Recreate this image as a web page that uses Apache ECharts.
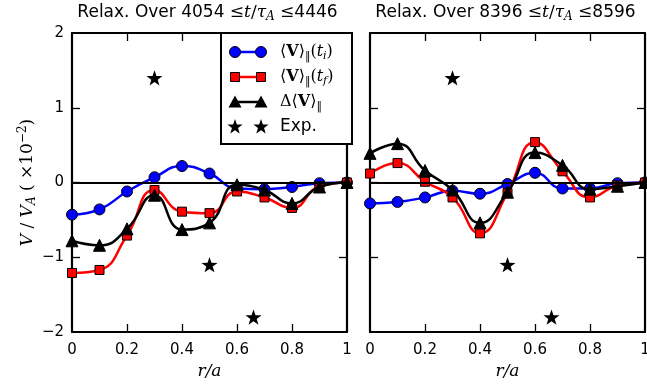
<!DOCTYPE html>
<html>
<head>
<meta charset="utf-8">
<script src="https://cdn.jsdelivr.net/npm/echarts@6/dist/echarts.min.js"></script>
<style>
html, body { margin: 0; padding: 0; background: #fff; }
#chart { width: 647px; height: 385px; }
</style>
</head>
<body>
<div id="chart"></div>
<script>
// Radial positions r/a of the profile samples
const radius = [0, 0.1, 0.2, 0.3, 0.4, 0.5, 0.6, 0.7, 0.8, 0.9, 1.0];

// Relaxation window 4054 <= t/tau_A <= 4446 (units of 1e-2 V_A)
const early_Vi = [-0.43, -0.36, -0.12, 0.07, 0.22, 0.12, -0.08, -0.09, -0.06, -0.01, 0];
const early_Vf = [-1.21, -1.17, -0.71, -0.10, -0.39, -0.41, -0.12, -0.20, -0.34, -0.05, 0];
const early_dV = [-0.78, -0.84, -0.62, -0.17, -0.63, -0.54, -0.03, -0.10, -0.28, -0.06, 0];

// Relaxation window 8396 <= t/tau_A <= 8596
const late_Vi = [-0.28, -0.26, -0.20, -0.11, -0.15, -0.02, 0.13, -0.08, -0.08, -0.01, 0];
const late_Vf = [0.12, 0.26, 0.01, -0.20, -0.68, -0.14, 0.54, 0.15, -0.20, -0.04, 0];
const late_dV = [0.39, 0.52, 0.16, -0.10, -0.54, -0.13, 0.40, 0.23, -0.09, -0.05, 0];

// Experimental points
const expRadius = [0.3, 0.5, 0.66];
const expValue = [1.4, -1.1, -1.8];

// Tick values and labels
const xTickValues = [0, 0.2, 0.4, 0.6, 0.8, 1];
const xTickLabels = ['0', '0.2', '0.4', '0.6', '0.8', '1'];
const yTickValues = [-2, -1, 0, 1, 2];
const yTickLabels = ['\u22122', '\u22121', '0', '1', '2'];

const panelTitles = [['4054', '4446'], ['8396', '8596']];

function pairs(xs, ys) { return xs.map((x, i) => [x, ys[i]]); }

function starPoints(cx, cy, R) {
  const pts = [];
  for (let k = 0; k < 10; k++) {
    const a = -Math.PI / 2 + k * Math.PI / 5;
    const rr = (k % 2 === 0) ? R : R * 0.4;
    pts.push([cx + rr * Math.cos(a), cy + rr * Math.sin(a)]);
  }
  return pts;
}
const starSymbol = 'path://' + starPoints(50, 52, 50).map((p, i) => (i ? 'L' : 'M') + p[0].toFixed(2) + ' ' + p[1].toFixed(2)).join(' ') + ' Z';

const serif = 'DejaVu Serif';
const sans = 'DejaVu Sans';

const xMin = 0, xMax = 1, yMin = -2, yMax = 2;
const gridBoxes = [
  { left: 72, top: 33, width: 275, height: 299 },
  { left: 370, top: 33, width: 275, height: 299 }
];

function frameLine() { return { show: true, onZero: false, lineStyle: { color: '#000', width: 2.2 } }; }

const xAxes = [], yAxes = [], series = [];
gridBoxes.forEach((g, gi) => {
  xAxes.push({
    gridIndex: gi, type: 'value', min: xMin, max: xMax, interval: 0.2, position: 'bottom',
    axisLine: frameLine(), axisTick: { show: false }, splitLine: { show: false },
    axisLabel: {
      color: '#000', fontFamily: sans, fontSize: 15, margin: 11,
      formatter: v => xTickLabels[xTickValues.findIndex(t => Math.abs(t - v) < 1e-9)]
    },
    name: 'r/a', nameLocation: 'middle', nameGap: 30,
    nameTextStyle: { color: '#000', fontFamily: serif, fontStyle: 'italic', fontSize: 17 }
  });
  xAxes.push({
    gridIndex: gi, type: 'value', min: xMin, max: xMax, interval: 0.2, position: 'top',
    axisLine: frameLine(), axisTick: { show: false }, splitLine: { show: false },
    axisLabel: { show: false }
  });
  yAxes.push({
    gridIndex: gi, type: 'value', min: yMin, max: yMax, interval: 1, position: 'left',
    axisLine: frameLine(), axisTick: { show: false }, splitLine: { show: false },
    axisLabel: {
      show: gi === 0, color: '#000', fontFamily: sans, fontSize: 15, margin: 8,
      formatter: v => yTickLabels[yTickValues.indexOf(Math.round(v))]
    },
    name: gi === 0 ? '{i|V} {n|/} {i|V}{sub|A} {n|( \u00d710}{sup|\u22122}{n|)}' : '',
    nameLocation: 'middle', nameRotate: 90, nameGap: 33,
    nameTextStyle: {
      color: '#000', fontFamily: serif, fontSize: 17,
      rich: {
        i: { fontFamily: serif, fontStyle: 'italic', fontSize: 17, color: '#000' },
        n: { fontFamily: serif, fontSize: 17, color: '#000' },
        sub: { fontFamily: serif, fontStyle: 'italic', fontSize: 12, color: '#000', padding: [8, 0, 0, 0] },
        sup: { fontFamily: serif, fontSize: 12, color: '#000', padding: [0, 0, 10, 0] }
      }
    }
  });
  yAxes.push({
    gridIndex: gi, type: 'value', min: yMin, max: yMax, interval: 1, position: 'right',
    axisLine: frameLine(), axisTick: { show: false }, splitLine: { show: false },
    axisLabel: { show: false }
  });
});

// Inward frame ticks as short markLine segments in data space (tick length 8 px)
const tickLen = 8;
function frameTicks(g) {
  const dy = tickLen / g.height * (yMax - yMin);
  const dx = tickLen / g.width * (xMax - xMin);
  const tickStyle = { color: '#000', width: 1.3, type: 'solid' };
  const segs = [];
  xTickValues.slice(1, -1).forEach(v => {
    segs.push([{ coord: [v, yMin], lineStyle: tickStyle }, { coord: [v, yMin + dy] }]);
    segs.push([{ coord: [v, yMax], lineStyle: tickStyle }, { coord: [v, yMax - dy] }]);
  });
  yTickValues.slice(1, -1).forEach(v => {
    segs.push([{ coord: [xMin, v], lineStyle: tickStyle }, { coord: [xMin + dx, v] }]);
    segs.push([{ coord: [xMax, v], lineStyle: tickStyle }, { coord: [xMax - dx, v] }]);
  });
  return segs;
}

const panels = [
  { vi: early_Vi, vf: early_Vf, dv: early_dV },
  { vi: late_Vi, vf: late_Vf, dv: late_dV }
];

panels.forEach((p, gi) => {
  const xi = gi * 2, yi = gi * 2;
  series.push({
    type: 'line', xAxisIndex: xi, yAxisIndex: yi, data: pairs(radius, p.vi),
    smooth: 0.5, symbol: 'circle', symbolSize: 11, showAllSymbol: true, z: 3,
    lineStyle: { color: '#0000ff', width: 2.5 },
    itemStyle: { color: '#0000ff', borderColor: '#000', borderWidth: 1, opacity: 1 },
    markLine: {
      silent: true, symbol: 'none', label: { show: false }, animation: false,
      lineStyle: { color: '#000', width: 2.2, type: 'solid' },
      data: [{ yAxis: 0 }].concat(frameTicks(gridBoxes[gi]))
    }
  });
  series.push({
    type: 'line', xAxisIndex: xi, yAxisIndex: yi, data: pairs(radius, p.vf),
    smooth: 0.5, symbol: 'rect', symbolSize: 9, showAllSymbol: true, z: 4,
    lineStyle: { color: '#ff0000', width: 2.5 },
    itemStyle: { color: '#ff0000', borderColor: '#000', borderWidth: 1, opacity: 1 }
  });
  series.push({
    type: 'line', xAxisIndex: xi, yAxisIndex: yi, data: pairs(radius, p.dv),
    smooth: 0.5, symbol: 'triangle', symbolSize: 12, showAllSymbol: true, z: 5,
    lineStyle: { color: '#000', width: 2.5 },
    itemStyle: { color: '#000', borderColor: '#000', borderWidth: 1, opacity: 1 }
  });
  series.push({
    type: 'scatter', xAxisIndex: xi, yAxisIndex: yi, data: pairs(expRadius, expValue),
    symbol: starSymbol, symbolKeepAspect: true, symbolSize: 16, z: 6,
    itemStyle: { color: '#000', opacity: 1 }
  });
});

// ---- Overlay: panel titles and the legend box ----
const overlay = [];

const titleRich = {
  s: { fontFamily: sans, fontSize: 17, color: '#000' },
  m: { fontFamily: serif, fontSize: 17, color: '#000' },
  mi: { fontFamily: serif, fontStyle: 'italic', fontSize: 17, color: '#000' },
  sub: { fontFamily: serif, fontStyle: 'italic', fontSize: 12, color: '#000', padding: [8, 0, 0, 0] }
};
panelTitles.forEach((t, gi) => {
  overlay.push({
    type: 'text', z: 100,
    x: gridBoxes[gi].left + gridBoxes[gi].width / 2 - 2, y: 13,
    style: {
      text: '{s|Relax. Over ' + t[0] + ' }{m|\u2264}{mi|t}{m|/}{mi|\u03c4}{sub|A}{m| \u2264}{s|' + t[1] + '}',
      rich: titleRich, align: 'center', verticalAlign: 'middle'
    }
  });
});

const lg = { x: 221, y: 33, w: 131, h: 111, rows: [52, 77, 102, 127], m1: 235, m2: 261, tx: 280 };
const legendRich = {
  n: { fontFamily: serif, fontSize: 16, color: '#000' },
  b: { fontFamily: serif, fontWeight: 'bold', fontSize: 16, color: '#000' },
  i: { fontFamily: serif, fontStyle: 'italic', fontSize: 16, color: '#000' },
  sub: { fontFamily: serif, fontSize: 11, color: '#000', padding: [9, 0, 0, 0] },
  subi: { fontFamily: serif, fontStyle: 'italic', fontSize: 11, color: '#000', padding: [9, 0, 0, 0] },
  s: { fontFamily: sans, fontSize: 17, color: '#000' }
};
const legendTexts = [
  '{n|\u27e8}{b|V}{n|\u27e9}{sub|\u2016}{n|(}{i|t}{subi|i}{n|)}',
  '{n|\u27e8}{b|V}{n|\u27e9}{sub|\u2016}{n|(}{i|t}{subi|f}{n|)}',
  '{n|\u0394\u27e8}{b|V}{n|\u27e9}{sub|\u2016}',
  '{s|Exp.}'
];
overlay.push({
  type: 'rect', z: 100,
  shape: { x: lg.x, y: lg.y, width: lg.w, height: lg.h },
  style: { fill: '#fff', stroke: '#000', lineWidth: 2 }
});
const legendColors = ['#0000ff', '#ff0000', '#000'];
lg.rows.forEach((ry, k) => {
  if (k < 3) {
    overlay.push({
      type: 'line', z: 101,
      shape: { x1: lg.m1, y1: ry, x2: lg.m2, y2: ry },
      style: { stroke: legendColors[k], lineWidth: 2.5 }
    });
  }
  [lg.m1, lg.m2].forEach(mx => {
    let el;
    if (k === 0) {
      el = { type: 'circle', shape: { cx: mx, cy: ry, r: 5.5 }, style: { fill: '#0000ff', stroke: '#000', lineWidth: 1 } };
    } else if (k === 1) {
      el = { type: 'rect', shape: { x: mx - 4.5, y: ry - 4.5, width: 9, height: 9 }, style: { fill: '#ff0000', stroke: '#000', lineWidth: 1 } };
    } else if (k === 2) {
      el = { type: 'polygon', shape: { points: [[mx, ry - 6.5], [mx + 6.5, ry + 5.5], [mx - 6.5, ry + 5.5]] }, style: { fill: '#000' } };
    } else {
      el = { type: 'polygon', shape: { points: starPoints(mx, ry, 8) }, style: { fill: '#000' } };
    }
    el.z = 102;
    overlay.push(el);
  });
  overlay.push({
    type: 'text', z: 102, x: lg.tx, y: ry,
    style: { text: legendTexts[k], rich: legendRich, align: 'left', verticalAlign: 'middle' }
  });
});

const chart = echarts.init(document.getElementById('chart'), null, { renderer: 'canvas' });
chart.setOption({
  animation: false,
  backgroundColor: '#fff',
  grid: gridBoxes.map(g => Object.assign({ outerBoundsMode: 'none', containLabel: false }, g)),
  xAxis: xAxes,
  yAxis: yAxes,
  series: series,
  graphic: { elements: overlay }
});
</script>
</body>
</html>
